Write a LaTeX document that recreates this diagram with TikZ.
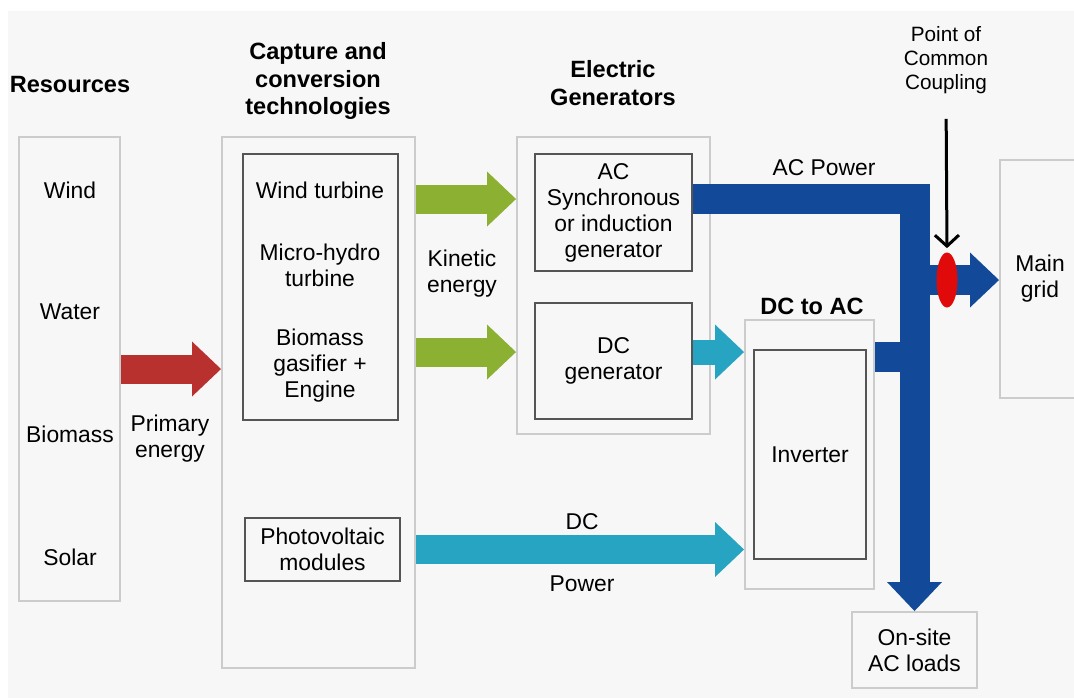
\documentclass[tikz,border=0pt]{standalone}
\usepackage{fontspec}
\setmainfont{Liberation Sans}
\usetikzlibrary{arrows.meta,shapes.geometric}
\definecolor{bgcol}{HTML}{F7F7F7}
\definecolor{boxgray}{HTML}{CCCCCC}
\definecolor{boxdark}{HTML}{555555}
\definecolor{primred}{HTML}{B8312F}
\definecolor{kingreen}{HTML}{8BB032}
\definecolor{dcteal}{HTML}{27A4C1}
\definecolor{acblue}{HTML}{124A99}
\definecolor{pccred}{HTML}{E10A0A}
\begin{document}
\begin{tikzpicture}[
		x=0.02cm, y=-0.02cm,
		every node/.style={align=center, inner sep=0pt, font=\fontsize{13}{14.8}\selectfont},
		outerbox/.style={draw=boxgray, line width=0.04cm, rectangle},
		innerbox/.style={draw=boxdark, line width=0.025cm, rectangle},
		header/.style={font=\fontsize{13.4}{15.6}\selectfont\bfseries},
		fat/.style={line width=0.58cm, -{Triangle[length=0.58cm, width=1.1cm, line width=0pt]}}
		]
		
		\clip (0,0) rectangle (1074,698);
		\fill[bgcol] (8,11) rectangle (1074,698);
		
		\node[header] (reshead) at (70,85) {Resources};
		\node[header] (caphead) at (318,81) {Capture and\\conversion\\technologies};
		\node[header] (genhead) at (613,83) {Electric\\Generators};
		\node[header] (dcachead) at (812,306) {DC to AC};
		
		\node[outerbox, minimum width=2.02cm, minimum height=9.28cm] (res) at (69.5,369) {};
		\node (wind) at (70,190) {Wind};
		\node (water) at (70,312) {Water};
		\node (biomass) at (70,434) {Biomass};
		\node (solar) at (70,557) {Solar};
		
		\node[outerbox, minimum width=3.86cm, minimum height=10.62cm] (capture) at (318.5,402.5) {};
		\node[innerbox, minimum width=3.10cm, minimum height=5.32cm] (tech) at (320.5,287) {};
		\node (turbine) at (320,190) {Wind turbine};
		\node (hydro) at (320,265) {Micro-hydro\\turbine};
		\node (gasifier) at (320,366) {Biomass\\gasifier +\\Engine};
		\node[innerbox, minimum width=3.10cm, minimum height=1.26cm] (pv) at (322.5,549.5) {Photovoltaic\\modules};
		
		\node[outerbox, minimum width=3.86cm, minimum height=5.94cm] (gen) at (613.5,285.5) {};
		\node[innerbox, minimum width=3.14cm, minimum height=2.34cm] (ac) at (613.5,212.5) {AC\\Synchronous\\or induction\\generator};
		\node[innerbox, minimum width=3.14cm, minimum height=2.32cm] (dc) at (613.5,361) {DC\\generator};
		
		\node[outerbox, minimum width=2.58cm, minimum height=5.38cm] (dcac) at (809.5,454.5) {};
		\node[innerbox, minimum width=2.24cm, minimum height=4.18cm] (inv) at (810,454.5) {Inverter};
		
		\node[outerbox, minimum width=1.60cm, minimum height=4.76cm] (grid) at (1040,279) {Main\\grid};
		\node[outerbox, minimum width=2.50cm, minimum height=1.52cm] (loads) at (914.5,650) {On-site\\AC loads};
		\node[font=\fontsize{11.8}{13.6}\selectfont] (pcclabel) at (946,60) {Point of\\Common\\Coupling};
		
		\node (primary) at (170,439) {Primary\\energy};
		\node (kinetic) at (462,274) {Kinetic\\energy};
		\node (acpower) at (824,168) {AC Power};
		\node (dclabel) at (582,522) {DC};
		\node (powerlabel) at (582,584) {Power};
		
		\coordinate (rowac) at (0,199);
		\coordinate (rowdc) at (0,352);
		\coordinate (rowinv) at (0,357);
		\coordinate (pccpt) at (947,280);
		
		\draw[fat, primred] (res.east) -- (capture.west |- res.east);
		\draw[fat, kingreen] (capture.east |- rowac) -- (gen.west |- rowac);
		\draw[fat, kingreen] (capture.east |- rowdc) -- (gen.west |- rowdc);
		\draw[fat, dcteal, line width=0.5cm] (dc.east |- rowdc) -- (dcac.west |- rowdc);
		\draw[fat, dcteal] (capture.east |- pv.east) -- (dcac.west |- pv.east);
		
		\draw[acblue, line width=0.6cm] (dcac.east |- rowinv) -- (loads.north |- rowinv);
		\draw[fat, acblue, line width=0.6cm] (ac.east |- rowac) -| (loads.north);
		\draw[fat, acblue, line width=0.6cm] (loads.north |- pccpt) -- (grid.west |- pccpt);
		
		\node[ellipse, fill=pccred, minimum width=0.42cm, minimum height=1.1cm] (pcc) at (pccpt) {};
		\draw[line width=0.06cm, -{Straight Barb[length=0.22cm, width=0.48cm]}, shorten <=0.5cm, shorten >=0.08cm] (pcclabel.south) -- (pcc.north);
		
	\end{tikzpicture}
\end{document}
